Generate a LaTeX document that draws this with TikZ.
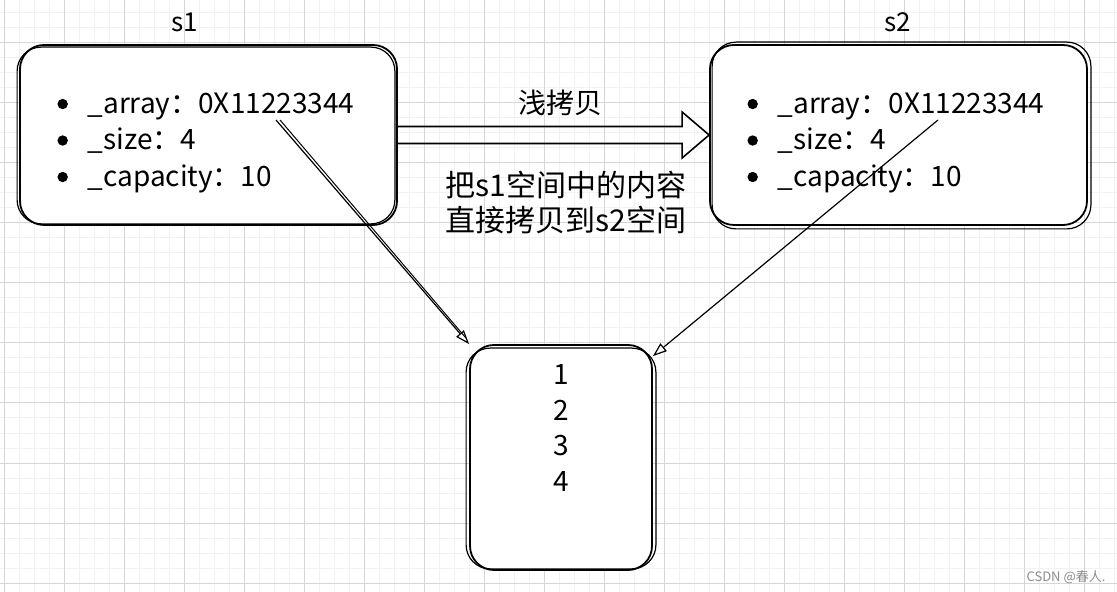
\documentclass[tikz,border=0pt]{standalone}
\usepackage{fontspec}
\setmainfont{Noto Sans CJK SC}
\usetikzlibrary{arrows.meta}
\newcommand{\dotmark}{\makebox[0pt][c]{\tikz[baseline=-4.6pt]\fill (0,0) circle (2.6pt);}\hspace{12.5pt}}

\begin{document}
\begin{tikzpicture}[x=0.5pt,y=-0.5pt]
      % Paper
      \useasboundingbox (0,0) rectangle (1117,592);
      \fill[white] (0,0) rectangle (1117,592);
      \foreach \x in {4,19,...,1117} \draw[black!5, line width=0.5pt] (\x,0) -- (\x,592);
      \foreach \y in {13,28,...,592} \draw[black!5, line width=0.5pt] (0,\y) -- (1117,\y);
      \foreach \x in {4,64,...,1117} \draw[black!16, line width=0.5pt] (\x,0) -- (\x,592);
      \foreach \y in {43,103,...,592} \draw[black!16, line width=0.5pt] (0,\y) -- (1117,\y);

      % Boxes
      \tikzset{Box/.style = {draw, line width=0.9pt, rounded corners=12pt, fill=white,
                             align=left, font=\fontsize{14}{18.25}\selectfont},
               Sketch/.style = {line width=0.6pt, rounded corners=12pt},
               Word/.style = {font=\fontsize{15}{17.5}\selectfont, align=center}}
      \node[Box, minimum width=188.5pt, minimum height=90pt] (s1) at (208.5,135)
           {\rule{0pt}{18pt}\dotmark\_array：0X11223344\\
            \dotmark\_size：4\\
            \dotmark\_capacity：10};
      \node[Box, minimum width=188.5pt, minimum height=90pt] (s2) at (898.5,135)
           {\rule{0pt}{18pt}\dotmark\_array：0X11223344\\
            \dotmark\_size：4\\
            \dotmark\_capacity：10};
      \node[Box, minimum width=91pt, minimum height=112.5pt] (heap) at (561,457.5) {};
      \draw[Sketch] ([shift={(-2,3)}]s1.north west) rectangle ([shift={(-3,-2)}]s1.south east);
      \draw[Sketch] ([shift={(3,-2)}]s2.north west) rectangle ([shift={(3,3)}]s2.south east);
      \draw[Sketch] ([shift={(-3,4)}]heap.north west) rectangle ([shift={(3,-2)}]heap.south east);

      % Labels
      \node[font=\fontsize{13}{15}\selectfont] (n1) at (185,22) {s1};
      \node[font=\fontsize{13}{15}\selectfont] (n2) at (898,22) {s2};
      \node[font=\fontsize{14}{17.85}\selectfont, align=center] (vals) at (561,428) {1\\2\\3\\4};
      \node[Word, font=\fontsize{14}{17}\selectfont] (shallow) at (560,103) {浅拷贝};
      \node[Word] (note) at (566,203) {把s1空间中的内容\\直接拷贝到s2空间};
      \node[text=black!45, font=\fontsize{6.5}{8}\selectfont] (mark) at (1066,577) {CSDN @春人.};

      % Arrows
      \tikzset{Pointer/.style = {line width=0.6pt, -{Triangle[open, length=7pt, width=5pt]}},
               Hollow/.style = {line width=0.8pt}}
      \coordinate (p1) at (276,120);
      \coordinate (p2) at (938,120);
      \draw[Pointer] (p1) -- (heap.north west);
      \draw[line width=0.5pt, shorten >=4pt] ([xshift=2pt]p1) -- ([xshift=1pt]heap.north west);
      \draw[Pointer] (p2) -- ([yshift=-6pt]heap.north east);
      \draw[Hollow] ([shift={(0,-8.5)}]s1.east) -- ([shift={(-27,-8.5)}]s2.west)
                    -- ([shift={(-27,-23)}]s2.west) -- (s2.west)
                    -- ([shift={(-27,23)}]s2.west) -- ([shift={(-27,8.5)}]s2.west)
                    -- ([shift={(0,8.5)}]s1.east);
\end{tikzpicture}
\end{document}
